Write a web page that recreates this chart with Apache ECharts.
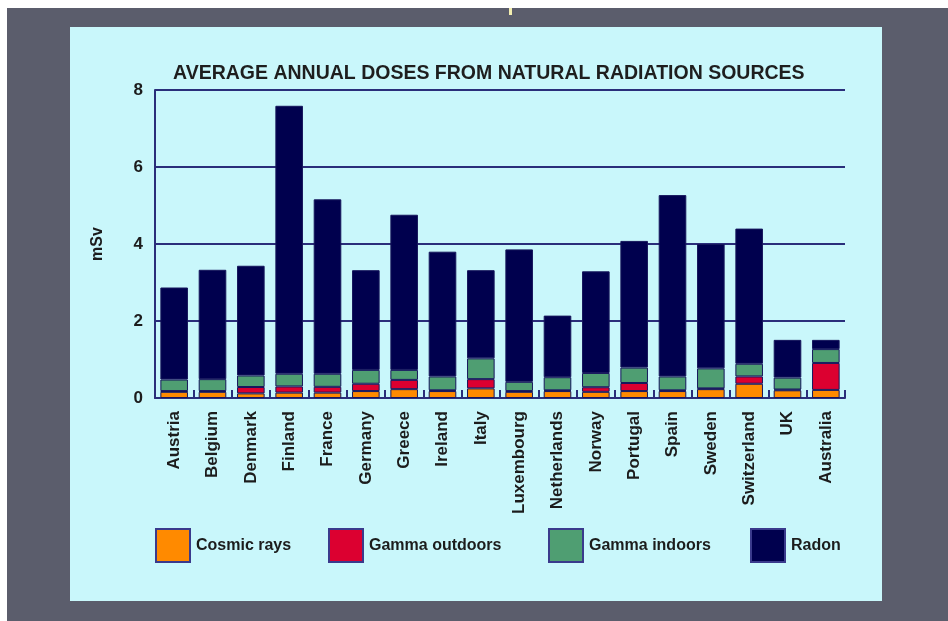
<!DOCTYPE html>
<html>
<head>
<meta charset="utf-8">
<style>
html,body{margin:0;padding:0;background:#5b5d6c;}
#chart{width:948px;height:621px;}
</style>
<script src="https://cdn.jsdelivr.net/npm/echarts@6/dist/echarts.min.js"></script>
</head>
<body>
<div id="chart"></div>
<script>
var titleText = 'AVERAGE ANNUAL DOSES FROM NATURAL RADIATION SOURCES';
var categories = ['Austria','Belgium','Denmark','Finland','France','Germany','Greece','Ireland','Italy','Luxembourg','Netherlands','Norway','Portugal','Spain','Sweden','Switzerland','UK','Australia'];
var seriesNames = ['Cosmic rays','Gamma outdoors','Gamma indoors','Radon'];
var cosmicRays     = [0.16,0.16,0.12,0.14,0.14,0.18,0.23,0.18,0.25,0.16,0.18,0.16,0.18,0.18,0.23,0.37,0.20,0.21];
var gammaOutdoors  = [0.02,0.02,0.165,0.16,0.15,0.19,0.24,0.02,0.24,0.02,0.02,0.12,0.21,0.02,0.02,0.19,0.02,0.70];
var gammaIndoors   = [0.30,0.31,0.30,0.33,0.34,0.36,0.26,0.36,0.54,0.24,0.34,0.37,0.40,0.36,0.52,0.33,0.31,0.36];
var radon          = [2.39,2.84,2.85,6.96,4.53,2.59,4.03,3.24,2.29,3.44,1.60,2.64,3.29,4.71,3.23,3.51,0.98,0.24];
var yTicks = [0,2,4,6,8];
var yName = 'mSv';

var FONT = '"Liberation Sans", Arial, Helvetica, sans-serif';
var NAVY = '#2a2e7a';
var colors = ['#ff8a00','#dc0030','#4f9e72','#00004e'];
var values = [cosmicRays, gammaOutdoors, gammaIndoors, radon];

var chart = echarts.init(document.getElementById('chart'), null, {renderer:'canvas'});

var series = seriesNames.map(function(n,i){
  return {
    name: n,
    type: 'bar',
    stack: 'dose',
    data: values[i],
    barCategoryGap: '28%',
    itemStyle: {color: colors[i], borderColor: '#16165c', borderWidth: 1},
    emphasis: {disabled: true},
    animation: false
  };
});

var legendLefts = [155, 328, 548, 750];
var legends = seriesNames.map(function(n,i){
  return {
    data: [n],
    left: legendLefts[i],
    top: 528,
    padding: 0,
    itemWidth: 34,
    itemHeight: 33,
    itemGap: 0,
    icon: 'rect',
    selectedMode: false,
    itemStyle: {borderColor: '#3a3a8c', borderWidth: 2},
    textStyle: {fontFamily: FONT, fontSize: 16, fontWeight: 'bold', color: '#1c1c1c', padding: [i === 3 ? 4 : 0, 0, 0, 1]}
  };
});

chart.setOption({
  backgroundColor: '#5b5d6c',
  animation: false,
  graphic: [
    {type:'rect', shape:{x:0,y:0,width:948,height:8}, style:{fill:'#ffffff'}, silent:true, z:-10},
    {type:'rect', shape:{x:0,y:0,width:7,height:621}, style:{fill:'#ffffff'}, silent:true, z:-10},
    {type:'rect', shape:{x:70,y:27,width:812,height:574}, style:{fill:'#c9f7fb'}, silent:true, z:-10},
    {type:'rect', shape:{x:509,y:8,width:3,height:7}, style:{fill:'#f3eeb0'}, silent:true, z:-10}
  ],
  title: {
    text: titleText,
    left: 168,
    top: 59,
    textStyle: {fontFamily: FONT, fontSize: 19.5, fontWeight: 'bold', color: '#1e1e1e'}
  },
  legend: legends,
  grid: {left: 155, right: 103, top: 90, bottom: 223, containLabel: false},
  xAxis: {
    type: 'category',
    data: categories,
    axisLine: {show: true, lineStyle: {color: NAVY, width: 2}},
    axisTick: {show: true, inside: true, length: 8, alignWithLabel: false, lineStyle: {color: NAVY, width: 2}},
    axisLabel: {rotate: 90, margin: 13, interval: 0, fontFamily: FONT, fontSize: 17, fontWeight: 'bold', color: '#1c1c1c'}
  },
  yAxis: {
    type: 'value',
    min: yTicks[0],
    max: yTicks[yTicks.length-1],
    interval: yTicks[1]-yTicks[0],
    name: yName,
    nameLocation: 'middle',
    nameRotate: 90,
    nameGap: 49,
    nameTextStyle: {fontFamily: FONT, fontSize: 16, fontWeight: 'bold', color: '#1c1c1c'},
    axisLine: {show: true, lineStyle: {color: NAVY, width: 2}},
    axisTick: {show: false},
    axisLabel: {margin: 12, fontFamily: FONT, fontSize: 17, fontWeight: 'bold', color: '#1c1c1c'},
    splitLine: {show: true, lineStyle: {color: NAVY, width: 2}}
  },
  series: series
});
</script>
</body>
</html>
